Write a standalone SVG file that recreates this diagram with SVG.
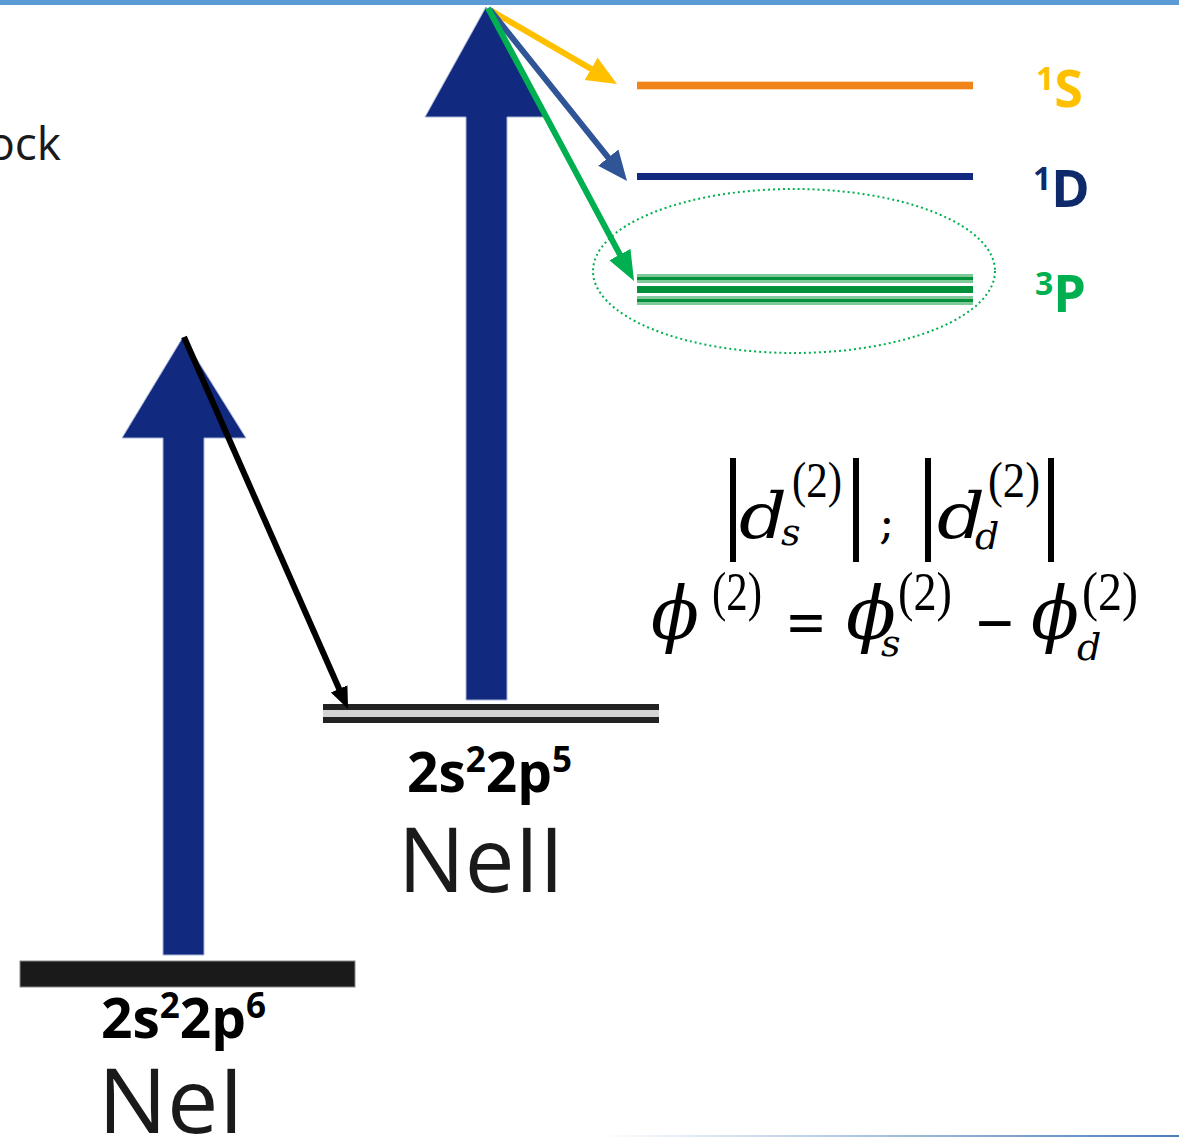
<svg xmlns="http://www.w3.org/2000/svg" width="1179" height="1138" viewBox="0 0 1179 1138">
  <style>
    .lvl { font-family: "Open Sans", "Liberation Sans", sans-serif; font-weight: 700; fill: #000; }
    .ion { font-family: "Open Sans", "Liberation Sans", sans-serif; font-weight: 400; fill: #1a1a1a; }
    .term { font-family: "Open Sans", "Liberation Sans", sans-serif; font-weight: 700; }
    .mi { font-family: "DejaVu Serif", "Liberation Serif", serif; font-style: italic; fill: #000; }
    .mr { font-family: "Liberation Serif", "DejaVu Serif", serif; fill: #000; }
    .mo { font-family: "DejaVu Serif", "Liberation Serif", serif; fill: #000; }
    .bigarrow { fill: #112a80; stroke: #a9b3d6; stroke-width: 1; }
    .conn { fill: none; stroke-width: 6; }
  </style>
  <defs>
    <marker id="hY" markerUnits="userSpaceOnUse" markerWidth="32" markerHeight="28" refX="10" refY="13" orient="auto">
      <path d="M0,0 L30,13 L0,26 z" fill="#ffc000"/>
    </marker>
    <marker id="hB" markerUnits="userSpaceOnUse" markerWidth="32" markerHeight="28" refX="10" refY="13" orient="auto">
      <path d="M0,0 L30,13 L0,26 z" fill="#2f5597"/>
    </marker>
    <marker id="hG" markerUnits="userSpaceOnUse" markerWidth="32" markerHeight="28" refX="10" refY="12" orient="auto">
      <path d="M0,0 L30,12 L0,24 z" fill="#00b050"/>
    </marker>
    <marker id="hK" markerUnits="userSpaceOnUse" markerWidth="24" markerHeight="20" refX="8" refY="9" orient="auto">
      <path d="M0,0 L22,9 L0,18 z" fill="#000"/>
    </marker>
    <linearGradient id="botline" x1="0" y1="0" x2="1" y2="0">
      <stop offset="0" stop-color="#4a7ebb" stop-opacity="0"/>
      <stop offset="1" stop-color="#4a7ebb" stop-opacity="1"/>
    </linearGradient>
  </defs>

  <!-- frame lines -->
  <rect x="0" y="0" width="1179" height="5" fill="#5b9bd5"/>
  <rect x="600" y="1135" width="579" height="2" fill="url(#botline)"/>

  <!-- cut-off text at top-left -->
  <text class="ion" x="61" y="160" text-anchor="end" font-size="46" fill="#000">ock</text>

  <!-- NeI -->
  <g id="neI">
    <polygon class="bigarrow" points="183,337 246,438 204,438 204,955 163,955 163,438 122,438"/>
    <rect x="20" y="961" width="335" height="26" fill="#1a1a1a" stroke="#888" stroke-width="1"/>
    <text class="lvl" x="101" y="1038" font-size="55">2s<tspan font-size="35" dy="-20">2</tspan><tspan dy="20">2p</tspan><tspan font-size="35" dy="-20">6</tspan></text>
    <text class="ion" x="98" y="1133" font-size="89" textLength="146" lengthAdjust="spacingAndGlyphs">NeI</text>
  </g>

  <!-- NeII -->
  <g id="neII">
    <polygon class="bigarrow" points="486,7 547,117 507,117 507,700 466,700 466,117 425,117"/>
    <rect x="323" y="704" width="336" height="19" fill="#d3d3d3"/>
    <rect x="323" y="704" width="336" height="6" fill="#222"/>
    <rect x="323" y="717" width="336" height="6" fill="#222"/>
    <text class="lvl" x="407" y="792" font-size="55">2s<tspan font-size="35" dy="-20">2</tspan><tspan dy="20">2p</tspan><tspan font-size="35" dy="-20">5</tspan></text>
    <text class="ion" x="398" y="892" font-size="89" textLength="166" lengthAdjust="spacingAndGlyphs">NeII</text>
  </g>

  <!-- 1S -->
  <g id="level-1S">
    <rect x="637" y="81" width="336" height="9" fill="#fbd9b5"/>
    <rect x="637" y="82" width="336" height="7" fill="#f08418"/>
    <text class="term" x="1036" y="107" font-size="52" fill="#ffc000"><tspan font-size="32" dy="-17">1</tspan><tspan dy="17">S</tspan></text>
  </g>

  <!-- 1D -->
  <g id="level-1D">
    <rect x="637" y="173" width="336" height="7" fill="#112a80"/>
    <text class="term" x="1033" y="207" font-size="52" fill="#0e2a6b"><tspan font-size="32" dy="-17">1</tspan><tspan dy="17">D</tspan></text>
  </g>

  <!-- 3P -->
  <g id="level-3P">
    <ellipse cx="794" cy="271" rx="201" ry="82" fill="none" stroke="#00b050" stroke-width="2" stroke-dasharray="2 3"/>
    <rect x="637" y="274" width="336" height="9" fill="#7fc89a"/>
    <rect x="637" y="277" width="336" height="3" fill="#00913a"/>
    <rect x="637" y="286" width="336" height="7" fill="#00913a"/>
    <rect x="637" y="296" width="336" height="9" fill="#7fc89a"/>
    <rect x="637" y="299" width="336" height="3" fill="#00913a"/>
    <text class="term" x="1035" y="312" font-size="52" fill="#00b050"><tspan font-size="32" dy="-17">3</tspan><tspan dy="17">P</tspan></text>
  </g>

  <!-- connectors -->
  <g id="connectors">
    <line class="conn" x1="184" y1="337" x2="342.4" y2="696.2" stroke="#000" marker-end="url(#hK)"/>
    <line class="conn" x1="490" y1="10" x2="599.7" y2="73.9" stroke="#ffc000" marker-end="url(#hY)"/>
    <line class="conn" x1="490" y1="10" x2="614.5" y2="165.4" stroke="#2f5597" marker-end="url(#hB)"/>
    <line class="conn" x1="488" y1="8" x2="624.6" y2="263.4" stroke="#00b050" marker-end="url(#hG)"/>
  </g>

  <!-- formula -->
  <g id="formula">
    <rect x="730" y="458" width="6" height="104" fill="#000"/>
    <text class="mi" x="739" y="538" font-size="64" textLength="48" lengthAdjust="spacingAndGlyphs">d</text>
    <text class="mr" x="792" y="497" font-size="50" textLength="50" lengthAdjust="spacingAndGlyphs">(2)</text>
    <text class="mi" x="781" y="545" font-size="38">s</text>
    <rect x="853" y="458" width="6" height="104" fill="#000"/>
    <text class="mo" x="879" y="538" font-size="46">;</text>
    <rect x="925" y="458" width="6" height="104" fill="#000"/>
    <text class="mi" x="937" y="538" font-size="64" textLength="48" lengthAdjust="spacingAndGlyphs">d</text>
    <text class="mr" x="988" y="497" font-size="50" textLength="52" lengthAdjust="spacingAndGlyphs">(2)</text>
    <text class="mi" x="975" y="549" font-size="38">d</text>
    <rect x="1048" y="458" width="6" height="104" fill="#000"/>

    <text class="mi" x="651" y="639" font-size="72" textLength="48" lengthAdjust="spacingAndGlyphs">ϕ</text>
    <text class="mr" x="712" y="610" font-size="54" textLength="50" lengthAdjust="spacingAndGlyphs">(2)</text>
    <text class="mo" x="785" y="643" font-size="62" textLength="42" lengthAdjust="spacingAndGlyphs">=</text>
    <text class="mi" x="846" y="639" font-size="72" textLength="50" lengthAdjust="spacingAndGlyphs">ϕ</text>
    <text class="mr" x="898" y="610" font-size="54" textLength="54" lengthAdjust="spacingAndGlyphs">(2)</text>
    <text class="mi" x="881" y="656" font-size="38">s</text>
    <text class="mo" x="974" y="643" font-size="62" textLength="42" lengthAdjust="spacingAndGlyphs">−</text>
    <text class="mi" x="1031" y="639" font-size="72" textLength="48" lengthAdjust="spacingAndGlyphs">ϕ</text>
    <text class="mr" x="1082" y="610" font-size="54" textLength="56" lengthAdjust="spacingAndGlyphs">(2)</text>
    <text class="mi" x="1077" y="660" font-size="38">d</text>
  </g>
</svg>
